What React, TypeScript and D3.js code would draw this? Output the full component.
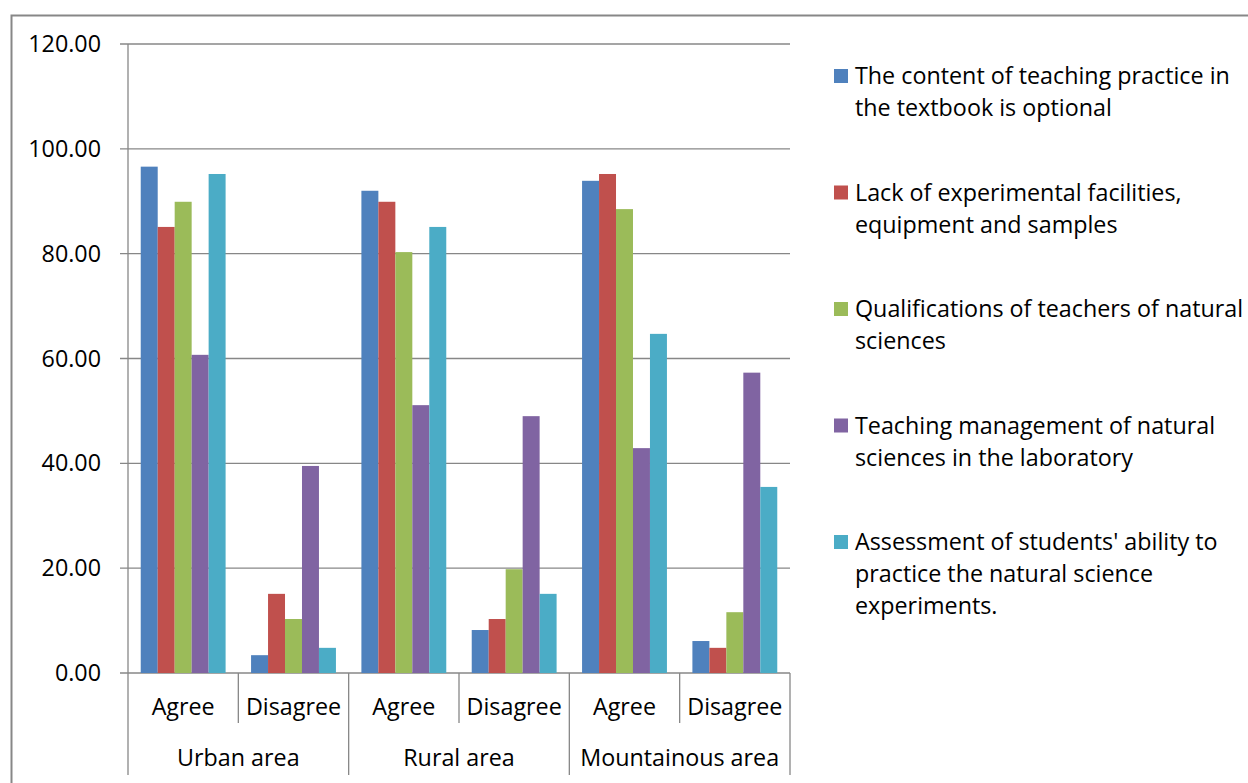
import React from "react";
import * as d3 from "d3";

const regions = ["Urban area", "Rural area", "Mountainous area"];
const answers = ["Agree", "Disagree"];
const seriesNames = [
  ["The content of teaching practice in", "the textbook is optional"],
  ["Lack of experimental facilities,", "equipment and samples"],
  ["Qualifications of teachers of natural", "sciences"],
  ["Teaching management of natural", "sciences in the laboratory"],
  ["Assessment of students' ability to", "practice the natural science", "experiments."],
];
const colors = ["#4F81BD", "#C0504D", "#9BBB59", "#8064A2", "#4BACC6"];
// values per series, ordered: Urban Agree, Urban Disagree, Rural Agree, Rural Disagree, Mountain Agree, Mountain Disagree
const contentOptional = [96.6, 3.4, 92.0, 8.2, 93.9, 6.1];
const lackFacilities = [85.1, 15.1, 89.9, 10.3, 95.2, 4.8];
const qualifications = [89.9, 10.3, 80.3, 19.8, 88.5, 11.6];
const labManagement = [60.7, 39.5, 51.1, 49.0, 42.9, 57.3];
const assessment = [95.2, 4.8, 85.1, 15.1, 64.7, 35.5];
const seriesValues = [contentOptional, lackFacilities, qualifications, labManagement, assessment];
const yTicks = [0, 20, 40, 60, 80, 100, 120];

export default function App() {
  const W = 1248, H = 783;
  const left = 128, right = 790, top = 44, bottom = 673;
  const cats = regions.flatMap((r) => answers.map((a) => `${r}|${a}`));
  const x = d3.scaleBand<string>().domain(cats).range([left, right]).paddingInner(0).paddingOuter(0);
  const y = d3.scaleLinear().domain([0, 120]).range([bottom, top]);
  const bw = x.bandwidth();
  const barW = bw / (5 + 1.5);
  const offset = (bw - barW * 5) / 2;
  const grid = "#878787";
  const font = "'Open Sans', sans-serif";
  const fs = 23.3;

  return (
    <svg width={W} height={H} style={{ position: "absolute", left: 0, top: 0 }}>
      <rect x={0} y={0} width={W} height={H} fill="#fff" />
      <rect x={11.5} y={15.5} width={W + 20} height={H + 20} fill="none" stroke={grid} strokeWidth={2} />
      {yTicks.map((t) => (
        <g key={t}>
          <line x1={left - 8} x2={right} y1={y(t)} y2={y(t)} stroke={grid} strokeWidth={1.3} />
          <text x={101} y={y(t)} dy="0.35em" textAnchor="end" fontFamily={font} fontSize={fs} fill="#000">
            {t.toFixed(2)}
          </text>
        </g>
      ))}
      {seriesValues.map((vals, si) =>
        vals.map((v, ci) => (
          <rect
            key={`${si}-${ci}`}
            x={(x(cats[ci]) as number) + offset + si * barW}
            y={y(v)}
            width={barW}
            height={y(0) - y(v)}
            fill={colors[si]}
          />
        ))
      )}
      <line x1={left} x2={left} y1={top} y2={775} stroke={grid} strokeWidth={1.3} />
      {cats.map((c, i) => {
        const x0 = x(c) as number;
        const isGroupEnd = i % 2 === 1;
        return (
          <g key={c}>
            <line x1={x0 + bw} x2={x0 + bw} y1={bottom} y2={isGroupEnd ? 775 : 723} stroke={grid} strokeWidth={1.3} />
            <text x={x0 + bw / 2} y={707} dy="0.35em" textAnchor="middle" fontFamily={font} fontSize={fs}>
              {c.split("|")[1]}
            </text>
          </g>
        );
      })}
      {regions.map((r) => {
        const x0 = x(`${r}|Agree`) as number;
        return (
          <text key={r} x={x0 + bw} y={758} dy="0.35em" textAnchor="middle" fontFamily={font} fontSize={fs}>
            {r}
          </text>
        );
      })}
      {seriesNames.map((lines, i) => {
        const cy = 76 + i * 116.5;
        return (
          <g key={i}>
            <rect x={834} y={cy - 7} width={14} height={14} fill={colors[i]} />
            {lines.map((ln, j) => (
              <text key={j} x={855} y={cy + j * 32} dy="0.35em" fontFamily={font} fontSize={fs}>
                {ln}
              </text>
            ))}
          </g>
        );
      })}
    </svg>
  );
}
